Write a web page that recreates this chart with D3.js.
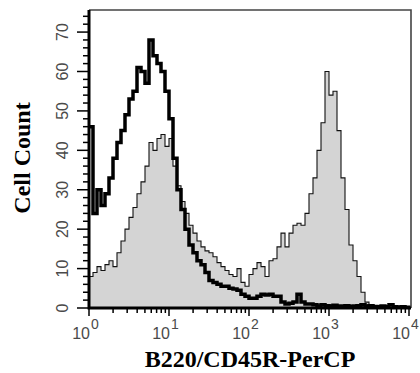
<!DOCTYPE html>
<html>
<head>
<meta charset="utf-8">
<script src="https://cdn.jsdelivr.net/npm/d3@7"></script>
<style>
  body { margin: 0; background: #fff; }
  .ticklabel { font-family: "Liberation Sans", Arial, sans-serif; fill: #4a4a4a; }
  .title { font-family: "Liberation Serif", "Times New Roman", serif; font-weight: bold; font-size: 24px; fill: #000; }
</style>
</head>
<body>
<svg id="chart" width="420" height="373"></svg>
<script>
// histogram channels, 0.05 decade apart starting at 10^0
var binStep = 0.05;

// unstained / control (thick black line)
var control = [46, 24, 30, 26, 29, 33, 38, 42, 45, 49,
  53, 55, 61, 60, 57, 68, 64, 62, 60, 55,
  48, 38, 30, 25, 20, 16, 14, 12, 11, 9,
  7, 6.5, 6, 5.5, 5.5, 5, 4.8, 4.5, 3.5, 3,
  2.5, 2.5, 3, 3.5, 3.3, 3.5, 3, 3, 1.5, 1,
  1.2, 1.5, 3.5, 1.5, 1, 1, 0.8, 0.5, 0.8, 0.6,
  0.5, 0.7, 0.5, 0.5, 0.6, 0.4, 0.5, 0.6, 0.8, 0.5,
  0.6, 0.4, 0.3, 0.5, 0.3, 0.8, 0.3, 0.2, 0.3, 0.2, 0];

// B220 stained (grey filled)
var stained = [8, 9, 10.5, 9.5, 11, 12, 10.5, 14, 17, 20,
  23, 25.5, 29, 32, 36, 42, 40, 43, 44, 41,
  43, 36, 31, 27, 24, 21, 19, 17, 15.5, 14.5,
  14, 13, 11.5, 10.5, 9.5, 8.5, 8, 10, 6.5, 5.5,
  8.5, 10, 11.5, 10.5, 8, 12, 12.5, 15.5, 19, 15.5,
  19, 21, 21.5, 21, 24, 29, 33, 40, 47, 60,
  54, 55, 45, 33, 25, 16, 12, 8, 4, 1.5,
  0.8, 0.5, 0.3, 0.2, 0.2, 0.1, 0, 0, 0, 0, 0];

var yTicks = [0, 10, 20, 30, 40, 50, 60, 70];
var xDecades = [0, 1, 2, 3, 4];

var svg = d3.select("#chart"),
    plotLeft = 89, plotRight = 411, plotTop = 10, plotBottom = 308;

var x = d3.scaleLog().domain([1, 10000]).range([plotLeft, plotRight - 2]);
var y = d3.scaleLinear().domain([0, 75.6]).range([plotBottom, plotTop]);

function binX(d, i) { return x(Math.pow(10, i * binStep)); }

// grey histogram
svg.append("path")
  .datum(stained)
  .attr("fill", "#d4d4d4")
  .attr("d", d3.area().x(binX).y0(y(0)).y1(function(d) { return y(d); }).curve(d3.curveStepAfter));

svg.append("path")
  .datum(stained)
  .attr("fill", "none")
  .attr("stroke", "#111")
  .attr("stroke-width", 1.1)
  .attr("d", d3.line().x(binX).y(function(d) { return y(d); }).curve(d3.curveStepAfter));

// control line
svg.append("path")
  .datum(control)
  .attr("fill", "none")
  .attr("stroke", "#000")
  .attr("stroke-width", 3.5)
  .attr("d", d3.line().x(binX).y(function(d) { return y(d); }).curve(d3.curveStepAfter));

// frame
svg.append("path")
  .attr("fill", "none")
  .attr("stroke", "#444")
  .attr("stroke-width", 1.6)
  .attr("d", "M" + plotLeft + "," + plotTop + "H" + plotRight + "V" + plotBottom);

// y axis ticks
var yMinor = d3.range(0, 76, 2);
svg.selectAll(".ytick")
  .data(yMinor)
  .enter().append("line")
    .attr("class", "ytick")
    .attr("stroke", "#000")
    .attr("stroke-width", 1.5)
    .attr("x1", function(d) { return d % 10 == 0 ? plotLeft - 12 : plotLeft - 6; })
    .attr("x2", plotLeft)
    .attr("y1", function(d) { return y(d); })
    .attr("y2", function(d) { return y(d); });

svg.selectAll(".ylabel")
  .data(yTicks)
  .enter().append("text")
    .attr("class", "ticklabel")
    .attr("font-size", 16)
    .attr("text-anchor", "middle")
    .attr("transform", function(d) { return "translate(68," + y(d) + ") rotate(-90)"; })
    .text(function(d) { return d; });

// x axis ticks (log)
var xMinor = [];
xDecades.forEach(function(e) {
  if (e < 4) for (var k = 1; k < 10; k++) xMinor.push(k * Math.pow(10, e));
});
xMinor.push(10000);

svg.selectAll(".xtick")
  .data(xMinor)
  .enter().append("line")
    .attr("class", "xtick")
    .attr("stroke", "#000")
    .attr("stroke-width", 1.5)
    .attr("x1", function(d) { return x(d); })
    .attr("x2", function(d) { return x(d); })
    .attr("y1", plotBottom)
    .attr("y2", function(d) { return Math.log10(d) % 1 == 0 ? plotBottom + 8 : plotBottom + 5; });

svg.selectAll(".xlabel")
  .data(xDecades)
  .enter().append("text")
    .attr("class", "ticklabel")
    .attr("font-size", 16)
    .attr("text-anchor", "end")
    .attr("x", function(d) { return x(Math.pow(10, d)) + 1; })
    .attr("y", 339)
    .text("10");

svg.selectAll(".xexp")
  .data(xDecades)
  .enter().append("text")
    .attr("class", "ticklabel")
    .attr("font-size", 14)
    .attr("x", function(d) { return x(Math.pow(10, d)) + 2; })
    .attr("y", 329)
    .text(function(d) { return d; });

// axis lines
svg.append("path")
  .attr("fill", "none")
  .attr("stroke", "#000")
  .attr("stroke-width", 3)
  .attr("d", "M" + plotLeft + "," + plotTop + "V" + plotBottom + "H" + plotRight);

// titles
svg.append("text")
  .attr("class", "title")
  .attr("text-anchor", "middle")
  .attr("x", 250)
  .attr("y", 367)
  .text("B220/CD45R-PerCP");

svg.append("text")
  .attr("class", "title")
  .attr("text-anchor", "middle")
  .attr("transform", "translate(30,158) rotate(-90)")
  .text("Cell Count");
</script>
</body>
</html>
